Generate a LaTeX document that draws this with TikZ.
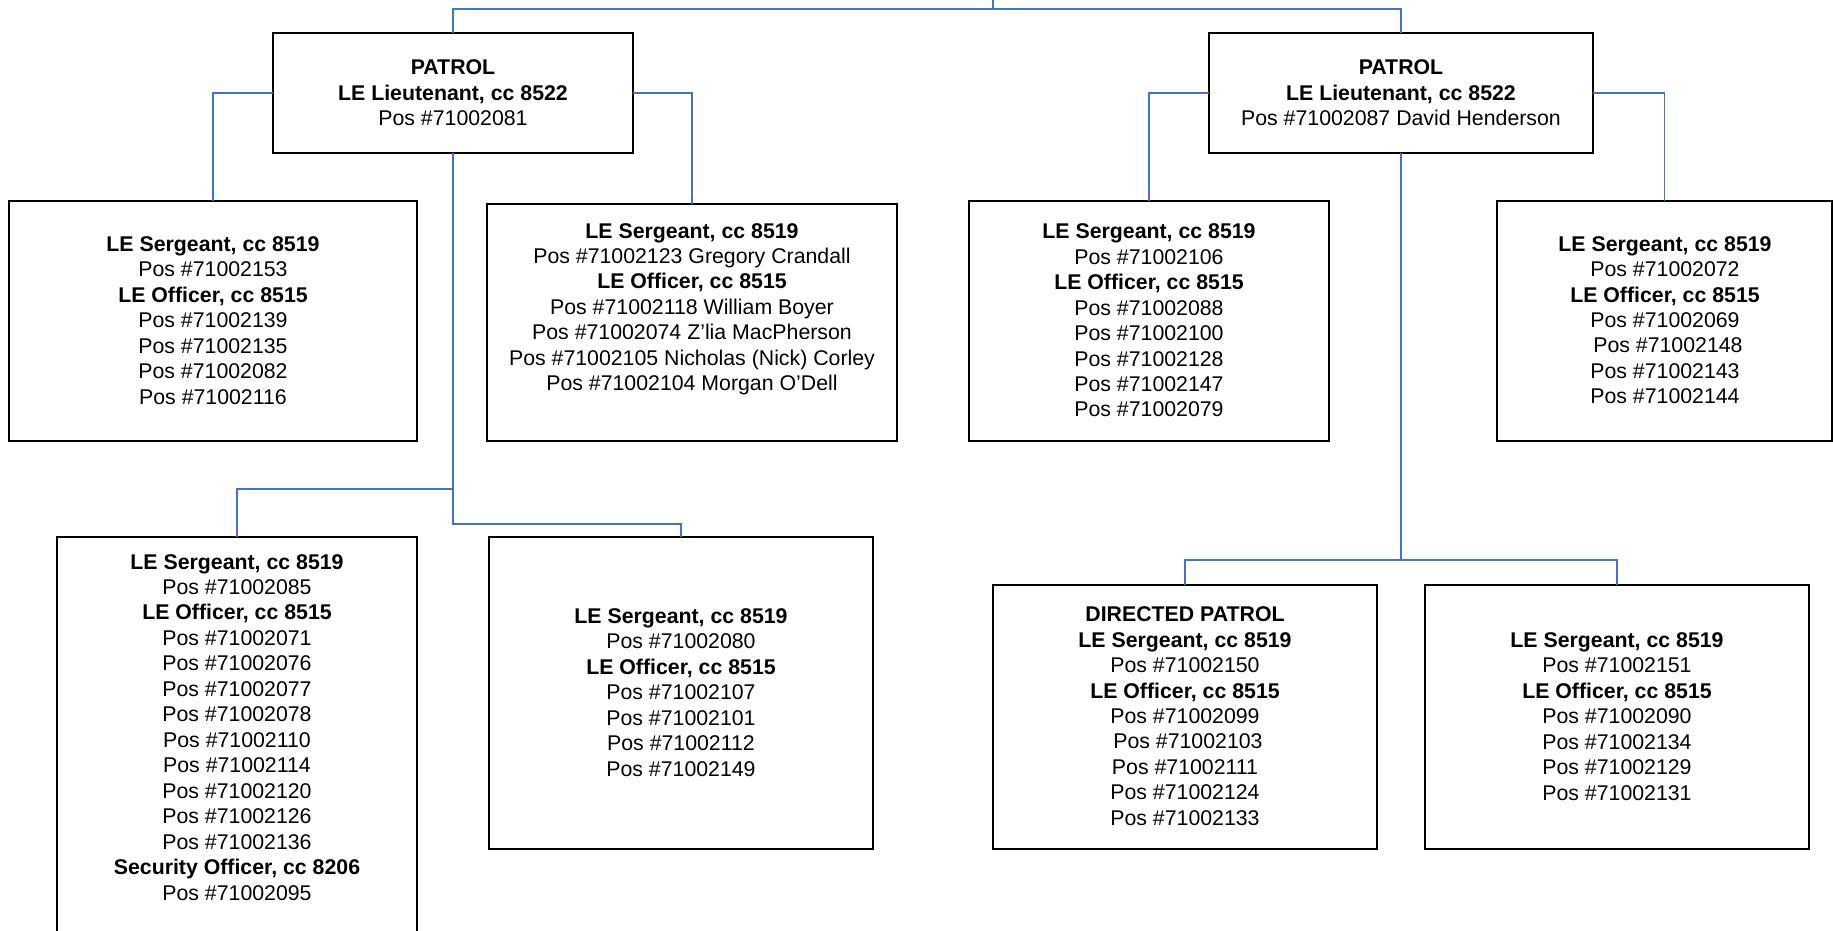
\documentclass[tikz,border=0pt]{standalone}
\usepackage{fontspec}
\setmainfont{Liberation Sans}
\definecolor{connblue}{RGB}{68,114,196}
\begin{document}
\begin{tikzpicture}[x=0.5pt,y=-0.5pt,
  box/.style={draw=black,line width=1pt,inner sep=0pt,outer sep=0pt},
  txt/.style={align=center,inner sep=0pt,font=\fontsize{10.65pt}{12.73pt}\selectfont},
  conn/.style={draw=connblue,line width=0.75pt}]
\clip (0,0) rectangle (1833,931);
% boxes
\node[box,minimum width=180pt,minimum height=60pt] (L1) at (453,93) {};
\node[box,minimum width=192pt,minimum height=60pt] (R1) at (1401,93) {};
\node[box,minimum width=204pt,minimum height=120pt] (A) at (213,321) {};
\node[box,minimum width=205pt,minimum height=118.5pt] (B) at (692,322.5) {};
\node[box,minimum width=180pt,minimum height=120pt] (E) at (1149,321) {};
\node[box,minimum width=167.5pt,minimum height=120pt] (F) at (1664.5,321) {};
\node[box,minimum width=180pt,minimum height=211.5pt] (C) at (237,748.5) {};
\node[box,minimum width=192pt,minimum height=156pt] (D) at (681,693) {};
\node[box,minimum width=192pt,minimum height=132pt] (G) at (1185,717) {};
\node[box,minimum width=192pt,minimum height=132pt] (H) at (1617,717) {};
% texts
\node[txt] (L1t) at (453,92.7) {\textbf{PATROL}\\\textbf{LE Lieutenant, cc 8522}\\Pos \#71002081};
\node[txt] (R1t) at (1401,92.7) {\textbf{PATROL}\\\textbf{LE Lieutenant, cc 8522}\\Pos \#71002087 David Henderson};
\node[txt] (At) at (213,320.3) {\textbf{LE Sergeant, cc 8519}\\Pos \#71002153\\\textbf{LE Officer, cc 8515}\\Pos \#71002139\\Pos \#71002135\\Pos \#71002082\\Pos \#71002116};
\node[txt] (Bt) at (692,309.2) {\textbf{LE Sergeant, cc 8519}\\Pos \#71002123 Gregory Crandall\\\textbf{LE Officer, cc 8515}\\Pos \#71002118 William Boyer\\Pos \#71002074 Z’lia MacPherson\\Pos \#71002105 Nicholas (Nick) Corley\\Pos \#71002104 Morgan O’Dell};
\node[txt] (Et) at (1149,320.5) {\textbf{LE Sergeant, cc 8519}\\Pos \#71002106\\\textbf{LE Officer, cc 8515}\\Pos \#71002088\\Pos \#71002100\\Pos \#71002128\\Pos \#71002147\\Pos \#71002079};
\node[txt] (Ft) at (1665,320.2) {\textbf{LE Sergeant, cc 8519}\\Pos \#71002072\\\textbf{LE Officer, cc 8515}\\Pos \#71002069\\\hspace*{0.278em}Pos \#71002148\\Pos \#71002143\\Pos \#71002144};
\node[txt] (Ct) at (237,727.2) {\textbf{LE Sergeant, cc 8519}\\Pos \#71002085\\\textbf{LE Officer, cc 8515}\\Pos \#71002071\\Pos \#71002076\\Pos \#71002077\\Pos \#71002078\\Pos \#71002110\\Pos \#71002114\\Pos \#71002120\\Pos \#71002126\\Pos \#71002136\\\textbf{Security Officer, cc 8206}\\Pos \#71002095};
\node[txt] (Dt) at (681,692.3) {\textbf{LE Sergeant, cc 8519}\\Pos \#71002080\\\textbf{LE Officer, cc 8515}\\Pos \#71002107\\Pos \#71002101\\Pos \#71002112\\Pos \#71002149};
\node[txt] (Gt) at (1185,716.2) {\textbf{DIRECTED PATROL}\\\textbf{LE Sergeant, cc 8519}\\Pos \#71002150\\\textbf{LE Officer, cc 8515}\\Pos \#71002099\\\hspace*{0.278em}Pos \#71002103\\Pos \#71002111\\Pos \#71002124\\Pos \#71002133};
\node[txt] (Ht) at (1617,716.3) {\textbf{LE Sergeant, cc 8519}\\Pos \#71002151\\\textbf{LE Officer, cc 8515}\\Pos \#71002090\\Pos \#71002134\\Pos \#71002129\\Pos \#71002131};
% connectors
\coordinate (top) at (993,9);
\coordinate (topup) at (993,-10);
\coordinate (jl) at (453,489);
\coordinate (jl2) at (453,524);
\coordinate (jr) at (1401,560);
\draw[conn] (topup) -- (top);
\draw[conn] (L1.north) |- (top) -| (R1.north);
\draw[conn] (L1.west) -| (A.north);
\draw[conn] (L1.east) -| (B.north);
\draw[conn] (L1.south) -- (jl2) -| (D.north);
\draw[conn] (jl) -| (C.north);
\draw[conn] (R1.west) -| (E.north);
\draw[conn] (R1.east) -| (F.north);
\draw[conn] (R1.south) -- (jr);
\draw[conn] (G.north) |- (jr) -| (H.north);
\end{tikzpicture}
\end{document}
